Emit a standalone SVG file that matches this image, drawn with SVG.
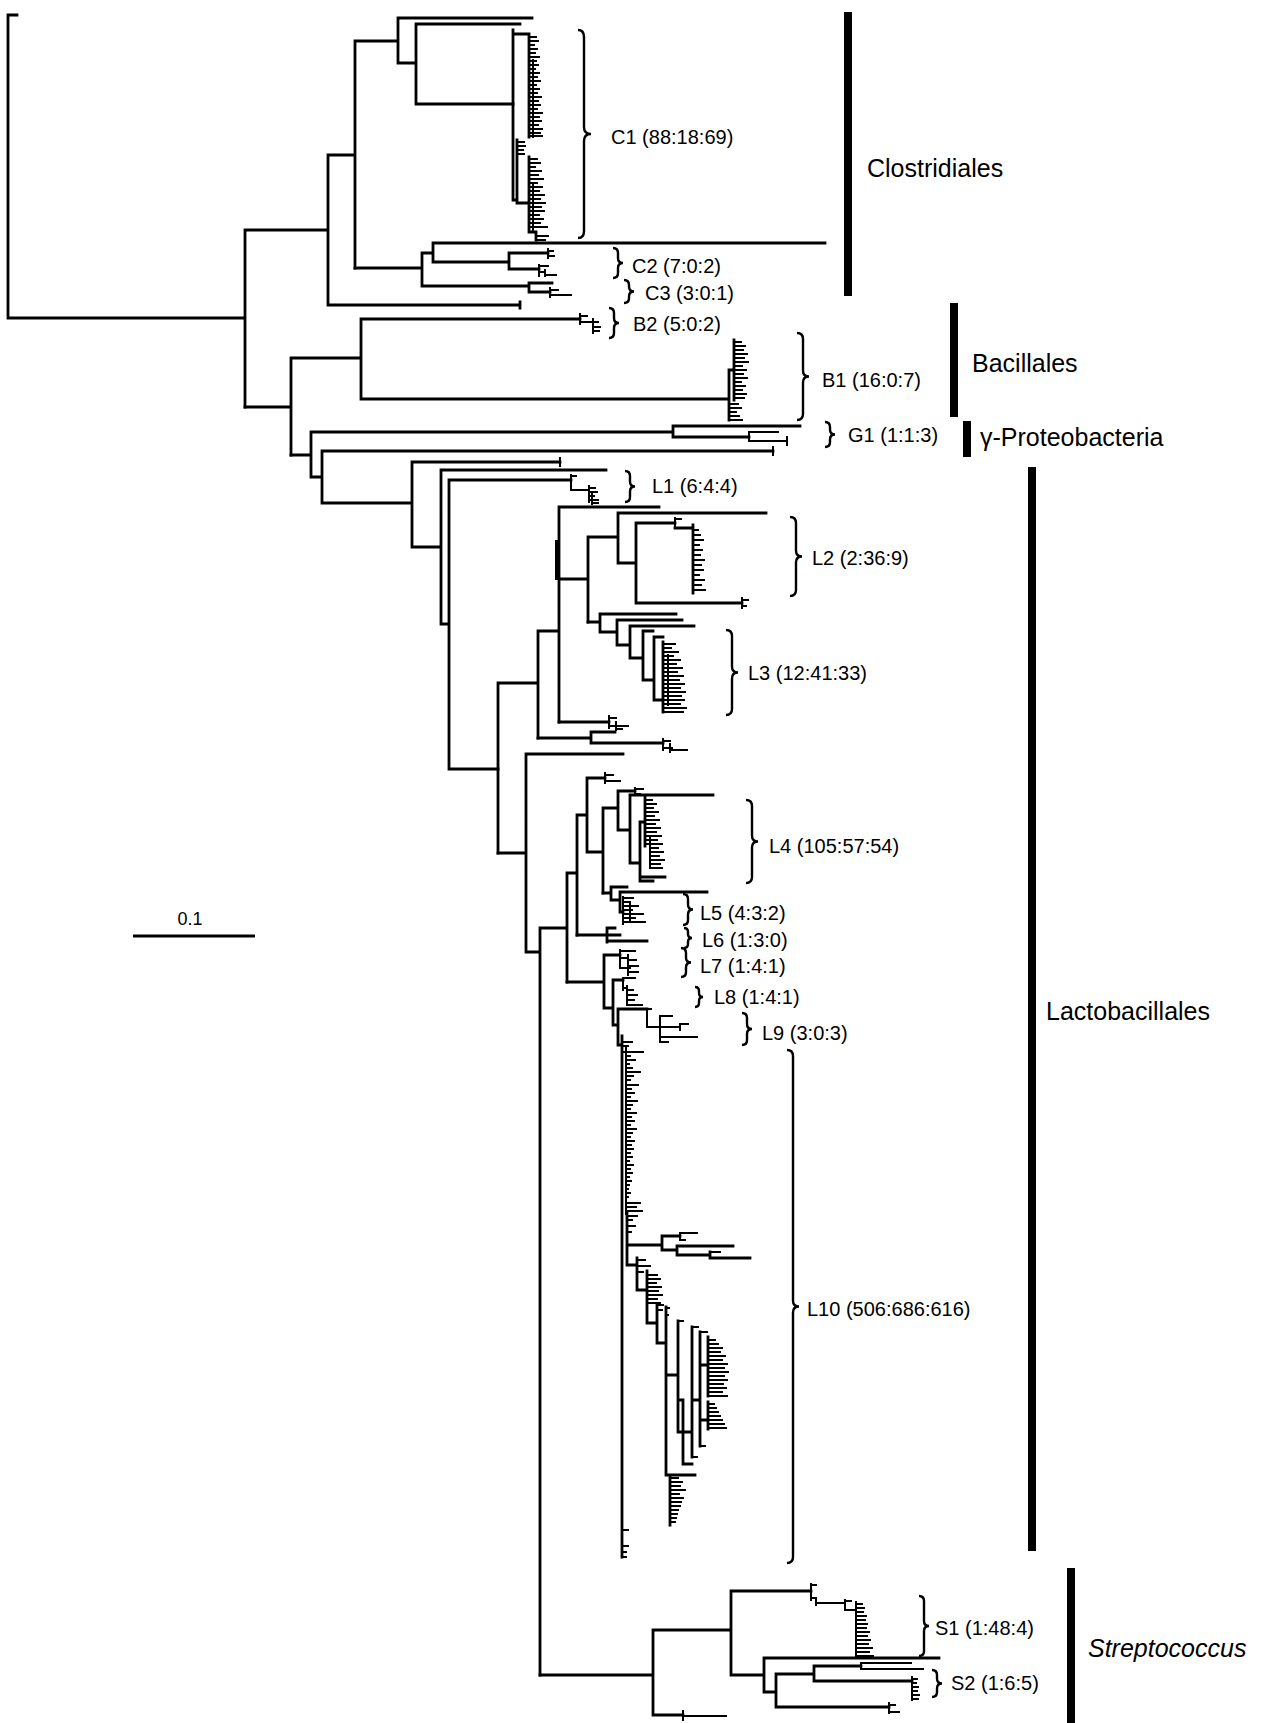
<svg xmlns="http://www.w3.org/2000/svg" width="1263" height="1723" viewBox="0 0 1263 1723">
<style>
.t{fill:none;stroke:#000;stroke-width:2.8;stroke-linecap:square}
.c{fill:none;stroke:#000;stroke-width:2;stroke-linecap:square}
.br{fill:none;stroke:#000;stroke-width:2.4}
.lab{font-family:"Liberation Sans",Arial,sans-serif;font-size:20px;fill:#000}
.grp{font-family:"Liberation Sans",Arial,sans-serif;font-size:25px;fill:#000}
</style>
<rect width="1263" height="1723" fill="#fff"/>
<g id="connectors">
<path class="t" d="M8 15H17M8 15V318M8 318H245M245 230V407M245 230H328M328 155V305M328 305H520M520 302V308M328 155H355M355 41V268M355 41H398M398 18V63M398 18H532M398 63H416M416 24V104M416 24H520M416 104H513"/>
<path class="t" d="M513 30V200M513 34H529M529 34V137M513 200H517M517 140V203M517 203H529M529 157V232M529 232H536M536 232V240"/>
<path class="c" d="M529 37H536M529 41H538M529 45H534M529 49H537M529 53H535M529 57H539M529 61H536M529 65H538M529 69H535M529 73H539M529 77H537M529 81H540M529 85H536M529 89H539M529 93H537M529 97H541M529 101H538M529 105H540M529 109H537M529 113H542M529 117H539M529 121H541M529 125H538M529 129H542M529 133H540M529 136H542M533 60V137M517 142H524M517 146H525M517 150H523M517 154H524M529 159H537M529 163H540M529 167H535M529 171H541M529 175H538M529 179H543M529 183H537M529 187H542M529 191H539M529 195H544M529 199H540M529 203H545M529 207H541M529 211H544M529 215H539M529 219H543M529 223H540M529 227H547M533 185V232M536 236H548M536 240H545"/>
<path class="t" d="M355 268H422M422 253V286M422 253H433M433 243V262M433 243H825M433 262H509M509 253V269M509 253H548M509 269H539M422 286H529M529 283V292M529 283H552M529 292H550"/>
<path class="c" d="M548 249V258M548 251H553M548 256H554M539 265V276M539 266H548M539 272H545M545 270V276M545 275H556M550 288V297M550 290H558M550 295H571"/>
<path class="t" d="M245 407H291M291 358V455M291 358H361M361 319V399M361 319H580M361 399H729M729 370V420M729 370H734M734 340V400"/>
<path class="c" d="M580 314V324M580 316H587M580 322H593M593 319V333M593 322H598M593 327H600M593 331H599M734 342H741M734 346H745M734 350H743M734 354H747M734 358H744M734 362H748M734 366H742M734 370H746M734 374H743M734 378H747M734 382H741M734 386H745M734 390H742M734 394H746M734 398H744M729 404H738M729 408H741M729 412H736M729 416H739M729 420H742"/>
<path class="t" d="M291 455H311M311 432V477M311 432H673M673 426V437M673 426H800M673 437H749M311 477H322M322 451V503M322 451H773M322 503H412M412 462V547M412 462H560M412 547H441M441 470V624M441 470H606M441 624H449M449 480V769M449 480H571M449 769H498"/>
<path class="c" d="M749 432V441M749 432H778M749 441H787M787 437V445M773 447V455M560 458V466M571 475V490M571 476H576M571 490H589M589 486V502M589 488H595M589 492H597M589 496H594M589 500H598M592 494V504M592 503H598"/>
<path class="t" d="M498 683V853M498 683H538M538 631V738M538 631H559M559 507V722M559 507H659M559 579H588M588 537V622M588 537H618M618 513V563M618 513H766M618 563H636M636 523V603M636 523H675M636 603H742M693 525V593M675 528H693"/>
<path class="t" d="M557 542V578" style="stroke-width:4"/>
<path class="c" d="M675 518V528M675 519H681M693 530H698M693 535H700M693 540H703M693 545H699M693 550H702M693 555H700M693 560H704M693 565H701M693 570H703M693 575H699M693 580H704M693 585H701M693 590H705M742 598V608M742 600H748M742 606H746"/>
<path class="t" d="M588 622H600M600 614V632M600 614H676M600 632H617M617 620V645M617 620H682M617 645H630M630 626V658M630 626H694M630 658H643M643 631V680M643 631H653M643 680H654M654 637V700M654 637H663M654 700H663M663 642V712"/>
<path class="c" d="M663 644H675M663 648H671M663 652H678M663 656H673M663 660H680M663 664H676M663 668H682M663 672H677M663 676H683M663 680H679M663 684H684M663 688H680M663 692H685M663 696H681M663 700H684M663 704H680M663 708H686M663 712H683M668 655V705"/>
<path class="t" d="M559 722H609M538 738H591M591 732V743M591 732H615M591 743H663"/>
<path class="c" d="M609 716V728M609 718H616M609 726H628M616 722V730M616 729H622M663 739V750M663 741H670M663 748H672M670 744V752M670 750H687"/>
<path class="t" d="M498 853H526M526 754V952M526 754H623M526 952H540M540 928V1675M540 928H567M567 873V982M567 873H577M577 815V935M577 815H587M587 778V852M587 778H605M587 852H603M603 808V893M603 808H618M618 791V830M618 791H635M618 830H630M630 795V863M630 795H713M630 863H640M640 822V881M640 822H645M640 877H665M640 881H653M645 798V846"/>
<path class="c" d="M605 773V783M605 775H613M605 781H620M635 788V795M635 789H643M635 794H640M645 800H652M645 804H656M645 808H653M645 812H658M645 816H654M645 820H659M645 824H655M645 828H660M645 832H656M645 836H661M645 840H657M645 844H662M650 836V868M650 848H658M650 852H663M650 856H659M650 860H664M650 864H660M650 868H662"/>
<path class="t" d="M603 893H611M611 887V900M611 887H627M611 900H620M620 892V912M620 892H707M620 912H623M577 935H607M607 928V942M607 928H615M607 935H620M607 941H647M567 982H604M604 955V1008M604 955H620M604 1008H613M613 980V1025M613 980H623M613 1025H618M618 1009V1045M618 1009H647M618 1045H622M622 1036V1557"/>
<path class="c" d="M623 897V924M623 898H633M623 902H630M623 906H638M623 910H632M623 914H643M623 918H635M623 922H645M630 904V920M620 950V968M620 951H635M620 958H628M628 955V975M628 960H636M628 966H638M628 972H638M620 968H630M623 978V990M623 978H635M623 988H627M627 986V1005M627 990H633M627 995H637M627 1000H634M627 1005H642M647 1009V1027M647 1009H651M647 1027H660M660 1016V1042M660 1016H672M660 1027H680M680 1024V1030M680 1024H688M660 1037H697M660 1042H668"/>
<path class="c" d="M626 1046V1214M622 1042H632M622 1046H628M622 1052H643M626 1056H630M626 1060H635M626 1064H629M626 1068H632M626 1072H640M626 1076H633M626 1080H630M626 1085H638M626 1089H631M626 1093H634M626 1097H630M626 1101H637M626 1105H632M626 1109H630M626 1113H636M626 1117H631M626 1121H634M626 1125H630M626 1129H636M626 1133H632M626 1137H630M626 1141H634M626 1145H631M626 1149H633M626 1153H630M626 1157H632M626 1161H629M626 1165H633M626 1169H630M626 1173H632M626 1177H629M626 1181H631M626 1185H629M626 1189H628M626 1193H630M626 1197H628M626 1203H640M626 1207H636M626 1211H642M622 1530H628M622 1546H628M622 1552H626M622 1557H626"/>
<path class="t" d="M627 1212V1265M627 1245H662M662 1236V1250M662 1236H680M662 1250H677M677 1246V1255M677 1246H733M677 1255H710M710 1252V1258M710 1258H750M627 1265H637M637 1258V1290M637 1290H647M647 1271V1323M647 1323H657M657 1305V1343M657 1343H666M666 1307V1475M666 1375H678M678 1321V1432M678 1400H683M683 1400V1464M683 1464H692M678 1432H692M692 1327V1457M692 1400H700M700 1332V1446M700 1365H708M708 1337V1396M700 1420H708M708 1402V1429M666 1475H695M670 1475V1525"/>
<path class="c" d="M627 1216H637M627 1220H632M627 1226H635M627 1232H631M680 1233V1240M680 1233H697M680 1240H685M710 1252H720M637 1260H645M637 1266H650M637 1272H643M647 1275H657M647 1279H660M647 1283H656M647 1287H661M647 1291H658M647 1295H662M647 1299H657M647 1303H660M657 1305H663M657 1310H662M666 1308H669M666 1315H668M678 1321H683M692 1327H698M692 1457H697M700 1332H707M700 1446H705M708 1340H715M708 1344H718M708 1348H722M708 1352H720M708 1356H725M708 1360H722M708 1364H727M708 1368H724M708 1372H728M708 1376H724M708 1380H727M708 1384H723M708 1388H726M708 1392H722M708 1396H727M708 1404H714M708 1408H716M708 1412H718M708 1416H720M708 1420H722M708 1424H724M708 1428H726M670 1478H678M670 1482H682M670 1486H680M670 1490H685M670 1494H679M670 1498H683M670 1502H681M670 1506H680M670 1510H678M670 1514H677M670 1518H676M670 1522H675"/>
<path class="t" d="M540 1675H653M653 1630V1715M653 1630H731M731 1591V1675M731 1591H811M731 1675H764M764 1658V1692M764 1658H939M764 1692H776M776 1674V1707M776 1674H814M814 1666V1681M814 1666H861M814 1681H912M776 1707H889M653 1715H683"/>
<path class="c" d="M811 1584V1600M811 1585H816M811 1598H816M816 1598V1605M816 1603H845M845 1600V1610M845 1601H851M845 1610H856M856 1602V1656M856 1604H862M856 1608H864M856 1612H863M856 1616H866M856 1620H865M856 1624H867M856 1628H866M856 1632H869M856 1636H867M856 1640H870M856 1644H868M856 1648H872M856 1652H869M856 1656H873M861 1663V1669M861 1663H911M861 1669H923M912 1677V1700M912 1679H917M912 1683H916M912 1687H918M912 1691H917M912 1695H919M912 1699H918M889 1703V1713M889 1705H895M889 1712H899M683 1711V1720M683 1716H726"/>
</g>
<g id="scale-bar">
<path d="M133 936H255" stroke="#000" stroke-width="3"/>
<text x="190" y="925" text-anchor="middle" font-family="Liberation Sans, Arial, sans-serif" font-size="18">0.1</text>
</g>
<g id="clade-C1"><path class="br" d="M578 30Q584 30 584 37V127Q584 134 591 134Q584 134 584 141V231Q584 238 578 238"/><text class="lab" x="611" y="144">C1 (88:18:69)</text></g>
<g id="clade-C2"><path class="br" d="M613 248Q618 248 618 253V258Q618 263 623 263Q618 263 618 268V273Q618 278 613 278"/><text class="lab" x="632" y="273">C2 (7:0:2)</text></g>
<g id="clade-C3"><path class="br" d="M624 280Q629 280 629 285V286.5Q629 291.5 634 291.5Q629 291.5 629 296.5V298Q629 303 624 303"/><text class="lab" x="645" y="300">C3 (3:0:1)</text></g>
<g id="clade-B2"><path class="br" d="M609 308Q614 308 614 313V318Q614 323 619 323Q614 323 614 328V333Q614 338 609 338"/><text class="lab" x="633" y="331">B2 (5:0:2)</text></g>
<g id="clade-B1"><path class="br" d="M797 333Q803 333 803 339V370.5Q803 376.5 809 376.5Q803 376.5 803 382.5V414Q803 420 797 420"/><text class="lab" x="822" y="387">B1 (16:0:7)</text></g>
<g id="clade-G1"><path class="br" d="M825 422Q830 422 830 427V429.5Q830 434.5 835 434.5Q830 434.5 830 439.5V442Q830 447 825 447"/><text class="lab" x="848" y="442">G1 (1:1:3)</text></g>
<g id="clade-L1"><path class="br" d="M625 471Q630 471 630 476V481.5Q630 486.5 635 486.5Q630 486.5 630 491.5V497Q630 502 625 502"/><text class="lab" x="652" y="493">L1 (6:4:4)</text></g>
<g id="clade-L2"><path class="br" d="M790 517Q796 517 796 523V550.5Q796 556.5 802 556.5Q796 556.5 796 562.5V590Q796 596 790 596"/><text class="lab" x="812" y="565">L2 (2:36:9)</text></g>
<g id="clade-L3"><path class="br" d="M726 630Q732 630 732 636V666.5Q732 672.5 738 672.5Q732 672.5 732 678.5V709Q732 715 726 715"/><text class="lab" x="748" y="680">L3 (12:41:33)</text></g>
<g id="clade-L4"><path class="br" d="M746 800Q752 800 752 806V835.5Q752 841.5 758 841.5Q752 841.5 752 847.5V877Q752 883 746 883"/><text class="lab" x="769" y="853">L4 (105:57:54)</text></g>
<g id="clade-L5"><path class="br" d="M683 894Q688 894 688 899V904.5Q688 909.5 693 909.5Q688 909.5 688 914.5V920Q688 925 683 925"/><text class="lab" x="700" y="920">L5 (4:3:2)</text></g>
<g id="clade-L6"><path class="br" d="M684 928Q688 928 688 932V934Q688 938 692 938Q688 938 688 942V944Q688 948 684 948"/><text class="lab" x="702" y="947">L6 (1:3:0)</text></g>
<g id="clade-L7"><path class="br" d="M681 948Q686 948 686 953V957.5Q686 962.5 691 962.5Q686 962.5 686 967.5V972Q686 977 681 977"/><text class="lab" x="700" y="973">L7 (1:4:1)</text></g>
<g id="clade-L8"><path class="br" d="M695 987Q699 987 699 991V993Q699 997 703 997Q699 997 699 1001V1003Q699 1007 695 1007"/><text class="lab" x="714" y="1004">L8 (1:4:1)</text></g>
<g id="clade-L9"><path class="br" d="M742 1013Q747 1013 747 1018V1024Q747 1029 752 1029Q747 1029 747 1034V1040Q747 1045 742 1045"/><text class="lab" x="762" y="1040">L9 (3:0:3)</text></g>
<g id="clade-L10"><path class="br" d="M787 1050Q793 1050 793 1056V1300.5Q793 1306.5 799 1306.5Q793 1306.5 793 1312.5V1557Q793 1563 787 1563"/><text class="lab" x="807" y="1316">L10 (506:686:616)</text></g>
<g id="clade-S1"><path class="br" d="M919 1596Q924 1596 924 1601V1621Q924 1626 929 1626Q924 1626 924 1631V1651Q924 1656 919 1656"/><text class="lab" x="935" y="1635">S1 (1:48:4)</text></g>
<g id="clade-S2"><path class="br" d="M932 1670Q937 1670 937 1675V1678.5Q937 1683.5 942 1683.5Q937 1683.5 937 1688.5V1692Q937 1697 932 1697"/><text class="lab" x="951" y="1690">S2 (1:6:5)</text></g>
<g id="group-Clostridiales"><rect x="844" y="12" width="8" height="284"/><text class="grp" x="867" y="177">Clostridiales</text></g>
<g id="group-Bacillales"><rect x="950" y="303" width="8" height="114"/><text class="grp" x="972" y="372">Bacillales</text></g>
<g id="group-Proteobacteria"><rect x="963" y="421" width="8" height="36"/><text class="grp" x="980" y="446">γ-Proteobacteria</text></g>
<g id="group-Lactobacillales"><rect x="1028" y="467" width="8" height="1084"/><text class="grp" x="1046" y="1020">Lactobacillales</text></g>
<g id="group-Streptococcus"><rect x="1067" y="1568" width="8" height="155"/><text class="grp" x="1088" y="1657" font-style="italic">Streptococcus</text></g>
</svg>
